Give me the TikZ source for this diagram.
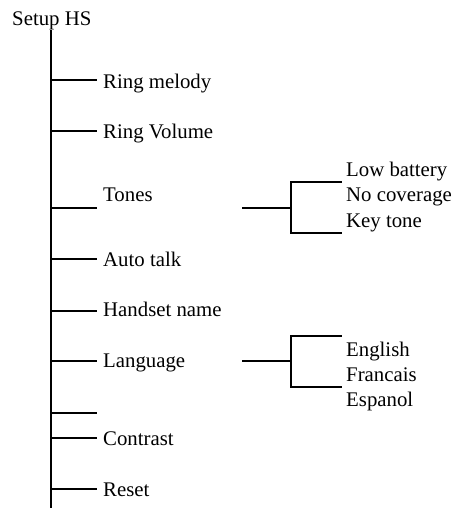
\documentclass[tikz,border=0pt]{standalone}
\usepackage{fontspec}
\setmainfont{Liberation Serif}
\begin{document}
\begin{tikzpicture}[x=1pt,y=-1pt,
  lbl/.style={anchor=base west,inner xsep=6pt,inner ysep=0pt,font=\fontsize{20.8}{25}\selectfont},
  sub/.style={anchor=base west,inner sep=0pt,font=\fontsize{20.8}{25}\selectfont},
  ln/.style={line width=1.8pt}]
\useasboundingbox (0,0) rectangle (455,508);
\node[sub] (root) at (12,26) {Setup HS};
\coordinate (top) at (51,30);
\coordinate (bot) at (51,508);
\draw[ln,line width=2pt] (top) -- (bot);
% branches
\coordinate (b1) at (51,80);
\coordinate (b2) at (51,131);
\coordinate (b3) at (51,208);
\coordinate (b4) at (51,259);
\coordinate (b5) at (51,311);
\coordinate (b6) at (51,361);
\coordinate (b7) at (51,413);
\coordinate (b8) at (51,438);
\coordinate (b9) at (51,489);
\node[lbl] (n1) at (97,88.3) {Ring melody};
\node[lbl] (n2) at (97,138.3) {Ring Volume};
\node[lbl] (n3) at (97,201) {Tones};
\node[lbl] (n4) at (97,266) {Auto talk};
\node[lbl] (n5) at (97,316.7) {Handset name};
\node[lbl] (n6) at (97,367.3) {Language};
\coordinate (n7) at (97,413);
\node[lbl] (n8) at (97,445) {Contrast};
\node[lbl] (n9) at (97,496.7) {Reset};
\draw[ln] (b1) -- (b1 -| n1.west);
\draw[ln] (b2) -- (b2 -| n2.west);
\draw[ln] (b3) -- (b3 -| n3.west);
\draw[ln] (b4) -- (b4 -| n4.west);
\draw[ln] (b5) -- (b5 -| n5.west);
\draw[ln] (b6) -- (b6 -| n6.west);
\draw[ln] (b7) -- (n7);
\draw[ln] (b8) -- (b8 -| n8.west);
\draw[ln] (b9) -- (b9 -| n9.west);
% Tones subtree
\coordinate (ts) at (242.3,208);
\coordinate (tj) at (290.7,208);
\coordinate (tt) at (290.7,182);
\coordinate (tb) at (290.7,233);
\coordinate (tte) at (341.7,182);
\coordinate (tbe) at (341.7,233);
\draw[ln] (ts) -- (tj);
\draw[ln] (tte) -- (tt) -- (tb) -- (tbe);
\node[sub] (t1) at (346,176) {Low battery};
\node[sub] (t2) at (346,201.7) {No coverage};
\node[sub] (t3) at (346,227.3) {Key tone};
% Language subtree
\coordinate (ls) at (242.3,361);
\coordinate (lj) at (290.7,361);
\coordinate (lt) at (290.7,336);
\coordinate (lb) at (290.7,387);
\coordinate (lte) at (341.7,336);
\coordinate (lbe) at (341.7,387);
\draw[ln] (ls) -- (lj);
\draw[ln] (lte) -- (lt) -- (lb) -- (lbe);
\node[sub] (l1) at (346,356) {English};
\node[sub] (l2) at (346,381.7) {Francais};
\node[sub] (l3) at (346,406.7) {Espanol};
\end{tikzpicture}
\end{document}
